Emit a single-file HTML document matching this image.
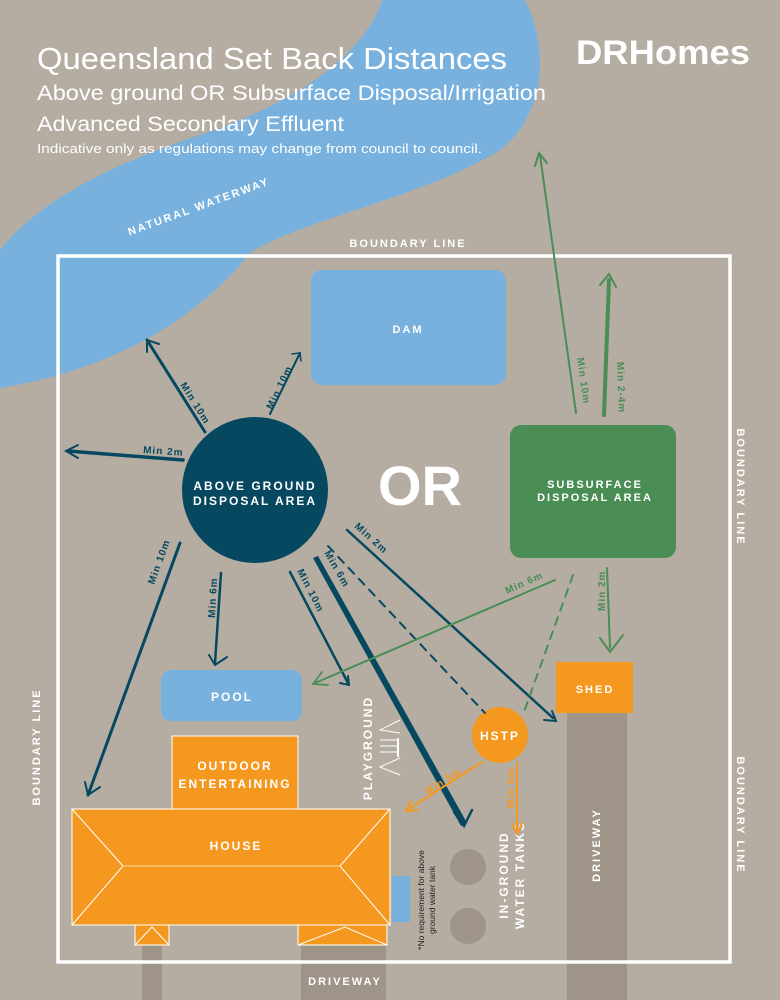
<!DOCTYPE html>
<html><head><meta charset="utf-8"><style>
html,body{margin:0;padding:0;background:#b5ada2}
svg{display:block}
text{font-family:"Liberation Sans",sans-serif}
.lb{font-weight:bold;letter-spacing:2px;fill:#fff}
.d{fill:#05485f;font-size:10px;font-weight:bold;letter-spacing:1px}
.g{fill:#4a8d55;font-size:10px;font-weight:bold;letter-spacing:1px}
.o{fill:#f5981f;font-size:10px;font-weight:bold;letter-spacing:1px}
</style></head><body>
<svg width="780" height="1000" viewBox="0 0 780 1000" xmlns="http://www.w3.org/2000/svg">
<rect width="780" height="1000" fill="#b5ada2"/>
<!-- river -->
<path d="M382,0 C370,40 320,95 200,135 C110,165 40,200 0,250 L0,388 C80,375 180,340 250,253 C300,220 430,195 500,150 C545,115 550,50 525,0 Z" fill="#78b1dd"/>
<text x="200" y="210" class="lb" font-size="11" transform="rotate(-20 200 210)" text-anchor="middle">NATURAL WATERWAY</text>
<!-- title -->
<text x="37" y="69" fill="#fff" font-size="31" textLength="470" lengthAdjust="spacingAndGlyphs">Queensland Set Back Distances</text>
<text x="37" y="100" fill="#fff" font-size="21" textLength="509" lengthAdjust="spacingAndGlyphs">Above ground OR Subsurface Disposal/Irrigation</text>
<text x="37" y="131" fill="#fff" font-size="21" textLength="307" lengthAdjust="spacingAndGlyphs">Advanced Secondary Effluent</text>
<text x="37" y="153" fill="#fff" font-size="13" textLength="445" lengthAdjust="spacingAndGlyphs">Indicative only as regulations may change from council to council.</text>
<text x="576" y="64" fill="#fff" font-size="34" font-weight="bold" textLength="174" lengthAdjust="spacingAndGlyphs">DRHomes</text>
<!-- driveways -->
<rect x="567" y="713" width="60" height="287" fill="#9e9488"/>
<rect x="142" y="945" width="20" height="55" fill="#9e9488"/>
<rect x="301" y="945" width="85" height="55" fill="#9e9488"/>
<!-- boundary -->
<rect x="58" y="256" width="672" height="706" fill="none" stroke="#fff" stroke-width="3.5"/>
<text x="408" y="247" class="lb" font-size="11" text-anchor="middle">BOUNDARY LINE</text>
<text x="345" y="985" class="lb" font-size="11" text-anchor="middle">DRIVEWAY</text>
<text transform="translate(737,487) rotate(90)" class="lb" font-size="11" text-anchor="middle">BOUNDARY LINE</text>
<text transform="translate(737,815) rotate(90)" class="lb" font-size="11" text-anchor="middle">BOUNDARY LINE</text>
<text transform="translate(40,747) rotate(-90)" class="lb" font-size="11" text-anchor="middle">BOUNDARY LINE</text>
<!-- dam -->
<rect x="311" y="270" width="195" height="115" rx="11" fill="#78b1dd"/>
<text x="408" y="333" class="lb" font-size="11" text-anchor="middle">DAM</text>
<!-- above ground circle -->
<circle cx="255" cy="490" r="73" fill="#05485f"/>
<text x="255" y="490" class="lb" font-size="12" text-anchor="middle">ABOVE GROUND</text>
<text x="255" y="505" class="lb" font-size="12" text-anchor="middle">DISPOSAL AREA</text>
<text x="420" y="505" fill="#fff" font-size="56" font-weight="bold" text-anchor="middle">OR</text>
<!-- subsurface -->
<rect x="510" y="425" width="166" height="133" rx="11" fill="#4a8d55"/>
<text x="595" y="488" class="lb" font-size="11" text-anchor="middle">SUBSURFACE</text>
<text x="595" y="501" class="lb" font-size="11" text-anchor="middle">DISPOSAL AREA</text>
<!-- pool -->
<rect x="161" y="670" width="141" height="51" rx="10" fill="#78b1dd"/>
<text x="232" y="701" class="lb" font-size="12" text-anchor="middle">POOL</text>
<!-- outdoor -->
<rect x="172" y="736" width="126" height="73" fill="#f5981f" stroke="#fff" stroke-width="1"/>
<text x="235" y="770" class="lb" font-size="12" text-anchor="middle">OUTDOOR</text>
<text x="235" y="788" class="lb" font-size="12" text-anchor="middle">ENTERTAINING</text>
<!-- house -->
<rect x="135" y="922" width="34" height="23" fill="#f5981f" stroke="#fff"/>
<polyline points="135,945 152,927 169,945" fill="none" stroke="#fff"/>
<rect x="298" y="922" width="89" height="23" fill="#f5981f" stroke="#fff"/>
<polyline points="298,945 345,927 387,945" fill="none" stroke="#fff"/>
<rect x="72" y="809" width="318" height="116" fill="#f5981f" stroke="#fff"/>
<polyline points="72,809 123,866 72,925" fill="none" stroke="#fff"/>
<polyline points="390,809 340,866 390,925" fill="none" stroke="#fff"/>
<line x1="123" y1="866" x2="340" y2="866" stroke="#ffd9a8"/>
<text x="236" y="850" class="lb" font-size="12" text-anchor="middle">HOUSE</text>
<rect x="392" y="876" width="18" height="46" fill="#78b1dd"/>
<text transform="translate(424,900) rotate(-90)" font-size="8.5" fill="#222" text-anchor="middle">*No requirement for above</text>
<text transform="translate(435,900) rotate(-90)" font-size="8.5" fill="#222" text-anchor="middle">ground water tank</text>
<!-- shed -->
<rect x="556" y="662" width="77" height="51" fill="#f5981f"/>
<text x="595" y="693" class="lb" font-size="11" text-anchor="middle">SHED</text>
<text transform="translate(600,845) rotate(-90)" class="lb" font-size="11" text-anchor="middle">DRIVEWAY</text>
<!-- tanks -->
<circle cx="468" cy="867" r="18" fill="#9e9488"/>
<circle cx="468" cy="926" r="18" fill="#9e9488"/>
<text transform="translate(508,875) rotate(-90)" class="lb" font-size="12" text-anchor="middle">IN-GROUND</text>
<text transform="translate(524,875) rotate(-90)" class="lb" font-size="12" text-anchor="middle">WATER TANKS</text>
<!-- playground -->
<text transform="translate(372,748) rotate(-90)" class="lb" font-size="12" text-anchor="middle">PLAYGROUND</text>
<g stroke="#fff" stroke-width="1" fill="none">
<polyline points="400,720 380,730 400,733"/><polyline points="400,775 380,767 400,758"/>
<line x1="398" y1="738" x2="398" y2="757" stroke-width="2"/>
<line x1="380" y1="740" x2="398" y2="740"/><line x1="380" y1="746" x2="398" y2="746"/><line x1="380" y1="752" x2="398" y2="752"/>
</g>
<!-- HSTP -->
<circle cx="500" cy="735" r="28" fill="#f5981f"/>
<text x="500" y="740" class="lb" font-size="12" text-anchor="middle">HSTP</text>
<!-- dark arrows -->
<g stroke="#05485f" fill="none" stroke-linecap="round">
<line x1="205" y1="432" x2="147" y2="340" stroke-width="3"/><polyline points="147,352 147,340 159,344" stroke-width="2"/>
<line x1="270" y1="414" x2="300" y2="353" stroke-width="2"/><polyline points="292,354 300,353 301,361" stroke-width="1.5"/>
<line x1="183" y1="460" x2="68" y2="451" stroke-width="3.5"/><polyline points="78,445 66,451 78,458" stroke-width="2"/>
<line x1="180" y1="543" x2="88" y2="795" stroke-width="3"/><polyline points="85,782 88,795 100,787" stroke-width="2"/>
<line x1="221" y1="573" x2="215" y2="663" stroke-width="2.5"/><polyline points="209,655 215,665 227,657" stroke-width="2"/>
<line x1="290" y1="572" x2="348" y2="683" stroke-width="2.5"/><polyline points="340,683 349,685 348,676" stroke-width="2"/>
<line x1="328" y1="546" x2="485" y2="713" stroke-width="2" stroke-dasharray="8,7"/>
<line x1="347" y1="530" x2="553" y2="718" stroke-width="2.5"/><polyline points="544,720 556,721 552,711" stroke-width="2"/>
<polyline points="454,812 464,826 472,810" stroke-width="2.5"/>
</g>
<polygon points="313,558 318,556 467,823 461,826" fill="#05485f"/>
<!-- green arrows -->
<g stroke="#4a8d55" fill="none" stroke-linecap="round">
<line x1="576" y1="413" x2="540" y2="155" stroke-width="2"/><polyline points="535,166 539,153 547,163" stroke-width="2"/>
<line x1="604" y1="415" x2="609" y2="280" stroke-width="4"/><polyline points="600,285 609,274 616,287" stroke-width="2"/>
<line x1="607" y1="568" x2="610" y2="648" stroke-width="2"/><polyline points="600,638 610,652 623,635" stroke-width="2"/>
<line x1="555" y1="580" x2="315" y2="683" stroke-width="2"/><polyline points="322,672 313,684 328,685" stroke-width="1.8"/>
<line x1="573" y1="575" x2="524" y2="712" stroke-width="2" stroke-dasharray="8,7"/>
</g>
<!-- orange arrows -->
<g stroke="#f5981f" fill="none" stroke-linecap="round" stroke-width="2">
<line x1="482" y1="762" x2="407" y2="810"/><polyline points="411,800 406,811 418,810"/>
<line x1="517" y1="763" x2="517" y2="833"/><polyline points="512,823 517,834 522,823"/>
</g>
<!-- labels -->
<text transform="translate(180,385) rotate(58)" class="d">Min 10m</text>
<text transform="translate(272,410) rotate(-64)" class="d">Min 10m</text>
<text transform="translate(143,453) rotate(4)" class="d">Min 2m</text>
<text transform="translate(154,585) rotate(-70)" class="d">Min 10m</text>
<text transform="translate(215,618) rotate(-87)" class="d">Min 6m</text>
<text transform="translate(297,571) rotate(63)" class="d">Min 10m</text>
<text transform="translate(324,553) rotate(60)" class="d">Min 6m</text>
<text transform="translate(354,527) rotate(42)" class="d">Min 2m</text>
<text transform="translate(577,358) rotate(82)" class="g">Min 10m</text>
<text transform="translate(617,362) rotate(88)" class="g">Min 2-4m</text>
<text transform="translate(507,594) rotate(-24)" class="g">Min 6m</text>
<text transform="translate(605,611) rotate(-90)" class="g">Min 2m</text>
<text transform="translate(428,795) rotate(-33)" class="o">Min 5m</text>
<text transform="translate(514,808) rotate(-90)" class="o">Min 6m</text>
</svg>
</body></html>
